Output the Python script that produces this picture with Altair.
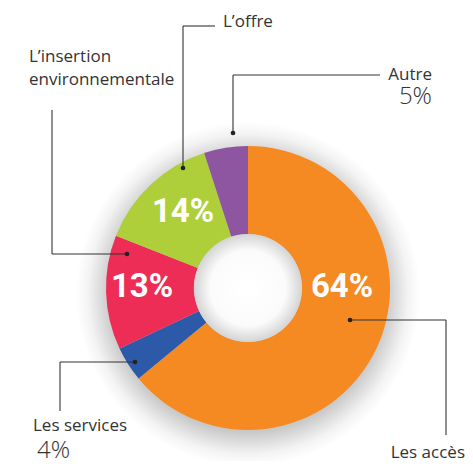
import altair as alt
import pandas as pd

# ---- data ----
categories = ["Les accès", "Les services", "L’insertion environnementale", "L’offre", "Autre"]
values = [64, 4, 13, 14, 5]
colors = ["#F58A22", "#2C5AA8", "#EE2D56", "#AECF3A", "#8E55A0"]
inner_labels = ["64%", "13%", "14%"]
callout_names = ["L’offre", "L’insertion", "environnementale", "Autre", "Les services", "Les accès"]
callout_pcts = ["5%", "4%"]

# ---- layout (pixel positions in page coordinates) ----
OFF = 8
W, H = 457, 453
CX, CY = 248 - OFF, 288 - OFF
R_OUT, R_IN = 142, 54
LFONT = "Open Sans"

df = pd.DataFrame({"cat": categories, "val": values, "ord": list(range(len(values)))})

px = lambda f: alt.X(f, scale=None, axis=None)
py = lambda f: alt.Y(f, scale=None, axis=None)

one = pd.DataFrame({"a": [0]})

shadow = alt.Chart(one).mark_arc(
    theta=0, theta2=6.2832, outerRadius=172, innerRadius=0,
    fill={"gradient": "radial", "x1": 0.5, "y1": 0.5, "x2": 0.5, "y2": 0.5, "r1": 0, "r2": 0.5,
          "stops": [{"offset": 0.0, "color": "#c8c8c8"},
                    {"offset": 0.80, "color": "#c8c8c8"},
                    {"offset": 0.86, "color": "#dcdcdc"},
                    {"offset": 0.93, "color": "#f3f3f3"},
                    {"offset": 1.0, "color": "#ffffff"}]},
).encode(x=alt.value(CX), y=alt.value(CY + 6))

pie = alt.Chart(df).mark_arc(outerRadius=R_OUT, innerRadius=R_IN).encode(
    theta=alt.Theta("val:Q", stack=True),
    order=alt.Order("ord:Q"),
    color=alt.Color("cat:N", scale=alt.Scale(domain=categories, range=colors), legend=None),
    x=alt.value(CX), y=alt.value(CY),
)

hole = alt.Chart(one).mark_arc(
    theta=0, theta2=6.2832, outerRadius=R_IN, innerRadius=0,
    fill={"gradient": "radial", "x1": 0.5, "y1": 0.5, "x2": 0.5, "y2": 0.5, "r1": 0, "r2": 0.5,
          "stops": [{"offset": 0.0, "color": "#ffffff"},
                    {"offset": 0.7, "color": "#fbfbfb"},
                    {"offset": 1.0, "color": "#d4d4d4"}]},
).encode(x=alt.value(CX), y=alt.value(CY))

# inner percentage labels
lab_df = pd.DataFrame({
    "t": inner_labels,
    "x": [342 - OFF, 142 - OFF, 183 - OFF],
    "y": [297 - OFF, 297 - OFF, 222 - OFF],
})
inner = alt.Chart(lab_df).mark_text(
    font="Roboto", fontWeight="bold", fontSize=33, color="white", align="center", baseline="alphabetic"
).encode(x=px("x:Q"), y=py("y:Q"), text="t:N")

# leader lines
segs = [
    (183, 168, 183, 26), (183, 26, 215, 26),          # L'offre
    (52, 110, 52, 254), (52, 254, 127, 254),          # insertion
    (233, 133, 233, 75), (233, 75, 380, 75),          # Autre
    (135, 362, 60, 362), (60, 362, 60, 411),          # services
    (350, 320, 446, 320), (446, 320, 446, 435),       # accès
]
seg_df = pd.DataFrame([{"x": a - OFF, "y": b - OFF, "x2": c - OFF, "y2": d - OFF} for a, b, c, d in segs])
lines = alt.Chart(seg_df).mark_rule(color="#333333", strokeWidth=1.1).encode(
    x=px("x:Q"), y=py("y:Q"), x2="x2:Q", y2="y2:Q"
)

dots_df = pd.DataFrame({"x": [183 - OFF, 127 - OFF, 233 - OFF, 135 - OFF, 350 - OFF],
                        "y": [168 - OFF, 254 - OFF, 133 - OFF, 362 - OFF, 320 - OFF]})
dots = alt.Chart(dots_df).mark_point(filled=True, size=22, color="#222222", opacity=1).encode(
    x=px("x:Q"), y=py("y:Q")
)

# callout names
name_df = pd.DataFrame({
    "t": callout_names,
    "x": [223 - OFF, 29 - OFF, 29 - OFF, 432 - OFF, 33 - OFF, 465 - OFF],
    "y": [27 - OFF, 62 - OFF, 85 - OFF, 80 - OFF, 431 - OFF, 458 - OFF],
    "al": ["left", "left", "left", "right", "left", "right"],
})
names_left = alt.Chart(name_df[name_df.al == "left"]).mark_text(
    font=LFONT, fontSize=17, color="#333333", align="left", baseline="alphabetic"
).encode(x=px("x:Q"), y=py("y:Q"), text="t:N")
names_right = alt.Chart(name_df[name_df.al == "right"]).mark_text(
    font=LFONT, fontSize=17, color="#333333", align="right", baseline="alphabetic"
).encode(x=px("x:Q"), y=py("y:Q"), text="t:N")

pct_df = pd.DataFrame({"t": callout_pcts, "x": [432 - OFF, 37 - OFF], "y": [104 - OFF, 458 - OFF],
                       "al": ["right", "left"]})
pct_right = alt.Chart(pct_df[pct_df.al == "right"]).mark_text(
    font=LFONT, fontWeight=300, fontSize=24, color="#333333", align="right", baseline="alphabetic"
).encode(x=px("x:Q"), y=py("y:Q"), text="t:N")
pct_left = alt.Chart(pct_df[pct_df.al == "left"]).mark_text(
    font=LFONT, fontWeight=300, fontSize=24, color="#333333", align="left", baseline="alphabetic"
).encode(x=px("x:Q"), y=py("y:Q"), text="t:N")

chart = alt.layer(
    shadow, pie, hole, inner, lines, dots, names_left, names_right, pct_right, pct_left
).properties(
    width=W, height=H, autosize=alt.AutoSizeParams(type="none"), padding=0, background="white"
).configure_view(strokeWidth=0, strokeOpacity=0)

chart.save("out.html", embed_options={"renderer": "svg", "actions": False})
